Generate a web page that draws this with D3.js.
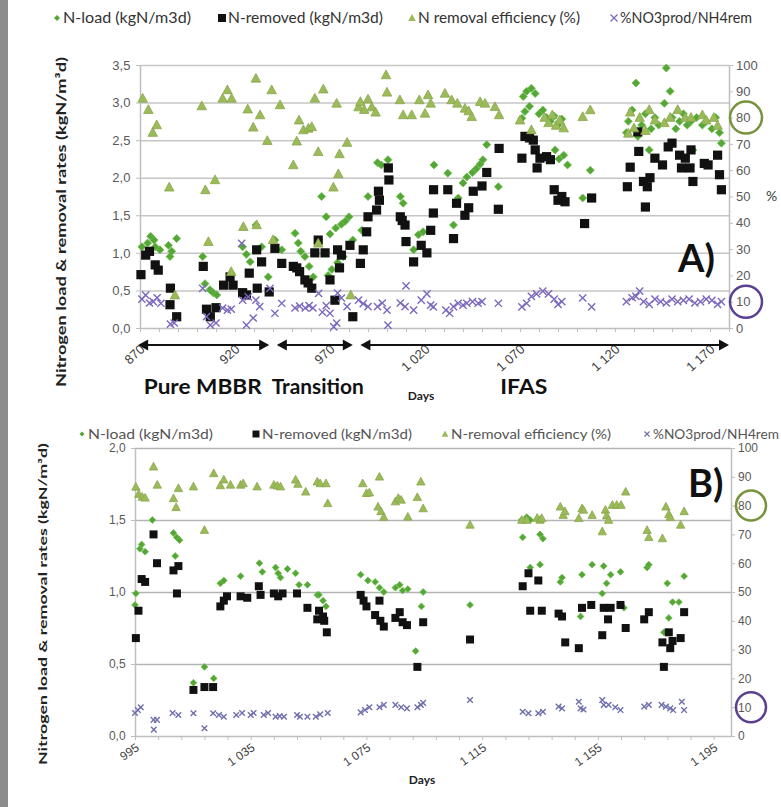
<!DOCTYPE html>
<html>
<head>
<meta charset="utf-8">
<script src="https://cdn.jsdelivr.net/npm/d3@7"></script>
<style>
  body { margin: 0; background: #fff; }
  svg { display: block; font-family: Lato, "Liberation Sans", sans-serif; }
</style>
</head>
<body>
<svg width="781" height="807"></svg>
<script>
var svg = d3.select("svg");

// ---- panel A data: [day, value] ----
var aLoad = [[871,1.08],[874,1.13],[875.6,1.22],[877.4,1.17],[878,1.08],[880.5,1.04],[885,1.10],[885.8,0.95],[886.7,1.02],[889.3,1.19],
  [903,0.95],[904.2,0.59],[906.8,0.51],[908.5,0.47],[910.4,0.44],[924,1.08],[926,0.98],[928,0.88],[931,1.37],[934,1.08],
  [937.5,0.68],[941,1.17],[944.6,1.04],[951.6,1.26],[953.3,1.13],[954.6,1.02],[956.8,0.95],[959,0.82],[961.2,0.68],[963.8,1.17],
  [965.6,1.75],[968,1.48],[969,0.70],[970,1.25],[971,0.78],[973,1.33],[974,0.87],[976,1.38],[977,0.95],[978,1.42],[980,1.48],
  [982,1.17],[986.7,1.30],[990,1.75],[995,2.20],[997,2.17],[1000.5,2.24],[1007,1.75],[1008.5,1.66],[1014,1.04],[1016.5,1.24],
  [1019,1.28],[1024.7,2.17],[1032,2.06],[1035,1.37],[1037.5,1.73],[1040,1.93],[1042,2.01],[1045,2.07],[1047,2.12],[1049,2.18],
  [1050.5,2.24],[1052.5,2.44],[1058.6,1.88],[1071,2.79],[1071.7,3.08],[1072.6,2.88],[1073.5,3.15],[1075,2.95],[1076,3.19],[1078,3.12],
  [1080,2.85],[1082,2.9],[1084,2.8],[1086,2.75],[1088,2.82],[1090,2.7],[1092,2.78],[1088.5,2.37],[1090.5,2.25],[1093,2.3],[1095,2.17],
  [1103,1.73],[1107,2.1],[1126,2.6],[1127,2.75],[1129,2.9],[1131,3.26],[1132,2.55],[1134,2.7],[1136,2.85],[1138,2.37],[1139,2.65],
  [1141,2.8],[1143,2.7],[1146,2.99],[1147,3.46],[1149,3.15],[1150,2.8],[1152,2.65],[1154,2.75],[1156,2.85],[1158,2.7],[1160,2.75],
  [1161,2.37],[1163,2.8],[1166,2.7],[1168,2.75],[1171,2.65],[1173,2.8],[1175,2.6],[1176,2.46]];
var aRemoved = [[870.5,0.71],[873,0.97],[875,1.02],[878,0.84],[879.6,0.77],[885.8,0.31],[886,0.53],[889.3,0.15],[903.3,0.82],[905,0.25],
  [907,0.15],[910,0.27],[914,0.57],[917.4,0.68],[919,0.57],[924,0.47],[926,0.44],[927.5,0.73],[931.4,1.04],[931.7,0.53],[934,0.88],
  [938,0.48],[941,1.06],[944.6,0.86],[950.7,0.82],[952.5,0.80],[954,0.75],[956.8,0.64],[958.5,0.60],[960.4,0.53],[962,1.0],[963.8,1.17],
  [967.4,1.0],[970,0.64],[972.6,0.37],[974,1.04],[975,0.80],[976,0.97],[980.5,1.10],[982,0.15],[986,0.86],[987.5,1.04],[989.3,1.28],
  [990,1.48],[994.5,1.57],[995.5,1.82],[996,1.70],[1000.7,2.13],[1001,1.97],[1007,1.48],[1008,1.43],[1009.5,1.37],[1010,1.15],
  [1014,0.88],[1018,1.10],[1021,1.0],[1023,1.30],[1024.4,1.53],[1024.5,1.84],[1032,1.84],[1035,1.19],[1036.6,1.66],[1041,1.50],
  [1043,1.60],[1045.4,1.82],[1050,1.89],[1052.5,2.07],[1058.6,1.58],[1059,2.39],[1071,2.26],[1072.6,2.55],[1075,2.53],[1077,2.50],
  [1078,2.37],[1079,2.13],[1080.5,2.26],[1084,2.28],[1086,2.24],[1088,1.84],[1090,1.70],[1092,1.75],[1093.7,1.68],[1104,1.39],
  [1107.7,1.73],[1126.5,1.88],[1128,2.14],[1132,2.61],[1132.5,2.35],[1135,1.95],[1136,1.61],[1137,1.88],[1138.4,2.0],[1141,2.26],
  [1145,2.17],[1148,2.41],[1150,2.46],[1154,2.30],[1155,2.13],[1157,2.26],[1159.5,2.13],[1160,2.37],[1161,1.95],[1167,2.19],
  [1169,2.17],[1174,2.30],[1175,2.04],[1176,1.84]];
var aEff = [[871.4,87.3],[874.4,83],[876.7,74.3],[878.8,77.2],[885.4,53.5],[888.4,12.5],[902.5,84.4],[904.4,52.5],[906,32.8],[909.5,56.3],
  [913.5,87.3],[916,90.5],[918,21.4],[918.2,87.3],[924.4,38.5],[926.7,83.2],[929.6,76.3],[931,94.9],[931.4,39.2],[933.2,81],[937,71.2],
  [939.3,90.5],[940,33.5],[943.7,84.8],[950.7,62],[952.5,71],[953.7,79],[956,75.3],[958.6,75.9],[960.4,76.5],[962,87.3],[963.8,67],
  [963.8,32.2],[966.5,90.8],[971.8,53.5],[973.5,85.4],[974.4,58.6],[975,66.2],[979,70.5],[980.9,12.5],[985,84],[986,86],[988,83],
  [990,87],[992,84],[994,82],[999.5,96.2],[1000,89.6],[1006.8,86.7],[1008.5,81],[1013,81],[1017,86.7],[1020,81.6],[1021.6,88.6],
  [1023,85.4],[1030.5,89.2],[1034,86.7],[1037,85.4],[1041,83.5],[1043,82.5],[1044.6,80.3],[1049,86],[1051.6,85.4],[1056.8,84.1],
  [1059,81],[1070,79],[1076,75.3],[1083,80],[1085,78],[1087,81],[1089,77],[1091,79],[1093,76],[1103,80.3],[1107,82.9],[1127,74],
  [1128,82],[1130,76],[1133,80],[1136,75],[1138,83],[1141,79],[1146,78],[1149,80],[1153,83],[1157,80],[1160,80],[1166,81],
  [1168,79],[1172,80],[1174,77]];
var aNo3 = [[871,11],[873,12.5],[875,9.5],[877,10],[879,11.5],[881,9.4],[886,1.5],[888,1.9],[903,15.1],[905,4.3],[907,1.1],[910,1.9],
  [913.5,7.6],[916,6.8],[918,7.2],[923.5,32.2],[924,10.6],[926,1.1],[927,11.8],[929.6,3.8],[931,10.6],[933,8.1],[938.4,15.1],[941,5.6],
  [944.6,9.4],[951.6,7.6],[954,8.3],[957,7.6],[959,8.5],[961,7.6],[964,13.2],[966,6],[968,8.5],[970,5.6],[972,0.4],[973.5,1.9],
  [974,13.3],[976,11.4],[979,8.1],[985,10.6],[987.5,9.3],[990,8.1],[995,8.1],[997.5,9.5],[1000,6.8],[1000.5,1.1],[1007,9.5],
  [1009.5,8.1],[1010,16],[1014,6.8],[1018,10.6],[1021,13],[1023,8.7],[1024.4,8],[1031,6.8],[1033,5.6],[1035,8.1],[1037.5,9.4],
  [1040,8.7],[1042,9.4],[1045,10],[1048,9.4],[1050,10],[1058.6,9.4],[1071,8],[1073.5,9.4],[1076,12],[1078.7,13],[1082,14],[1085,13],
  [1088,11],[1090,9],[1092,10],[1103,11.4],[1107.7,8],[1126,10],[1129,11.5],[1131,12],[1133,14],[1135,10],[1138,9],[1141,11],
  [1144,10],[1147,9.5],[1150,11],[1153,10],[1156,10.5],[1159,11],[1162,9.5],[1165,10],[1168,11],[1171,10.5],[1174,9],[1176,10]];

// ---- panel B data: [day, value] ----
var bLoad = [[995,0.91],[995.3,0.99],[996.7,1.30],[997.3,1.33],[998.5,1.28],[1001,1.50],[1008.3,1.41],[1008.9,1.25],[1009.4,1.38],
  [1010.4,1.36],[1015.2,0.37],[1019,0.48],[1022.2,0.40],[1024.5,1.06],[1025.7,1.08],[1031.5,1.11],[1038,1.20],[1039,1.14],
  [1043.6,1.17],[1044.5,1.13],[1045.3,1.10],[1047.7,1.16],[1050.5,1.13],[1051.7,1.05],[1054.6,1.05],[1058,0.98],[1058.6,0.98],
  [1060,0.94],[1061,0.90],[1073,1.12],[1075.5,1.08],[1078,1.07],[1079.5,1.03],[1081,1.0],[1085,1.03],[1086.5,1.05],[1087.5,1.01],
  [1089.3,1.02],[1092,0.59],[1094,0.90],[1094.6,1.0],[1110.8,0.91],[1128.6,1.50],[1129,1.38],[1130.4,1.52],[1131.6,1.50],
  [1131.6,1.17],[1135,1.40],[1135,1.19],[1136,1.37],[1142,1.07],[1142.6,1.10],[1149,0.83],[1149.5,1.12],[1153,1.19],[1156.5,0.99],
  [1157,1.18],[1158,1.06],[1159.4,1.12],[1162.8,1.14],[1164,0.89],[1172,1.17],[1172.6,1.19],[1177.8,0.72],[1179,1.06],[1179.5,0.82],
  [1180.8,0.93],[1183,0.93],[1184.8,1.11]];
var bRemoved = [[995.3,0.68],[996.2,0.87],[997.3,1.09],[998.5,1.07],[1001.4,1.40],[1002.6,1.20],[1008.3,1.15],[1009.5,0.99],[1010,1.18],
  [1015.2,0.32],[1019,0.34],[1022,0.34],[1024.5,0.90],[1025.7,0.94],[1026.8,0.97],[1031.5,0.97],[1033.8,0.96],[1037.8,1.04],
  [1038.4,0.98],[1043,0.99],[1044.5,0.97],[1046,0.99],[1051,0.99],[1054.6,0.89],[1058,0.81],[1058.6,0.87],[1060,0.83],[1060.4,0.80],
  [1061.3,0.72],[1073,0.98],[1074,0.94],[1075,0.90],[1078,0.84],[1079.5,0.94],[1079.8,0.80],[1081,0.76],[1085,0.82],[1086.5,0.86],
  [1087.5,0.79],[1089,0.77],[1092.6,0.48],[1094.6,0.79],[1110.8,0.67],[1129,1.04],[1131,1.13],[1131.6,0.87],[1134.4,1.08],
  [1135.6,0.87],[1141.4,0.85],[1142.6,0.83],[1143.7,0.65],[1148.4,0.61],[1149.5,0.89],[1152.7,0.91],[1156.5,0.70],[1157,0.89],
  [1158.5,0.81],[1159.4,0.89],[1162.8,0.91],[1164.6,0.75],[1171,0.81],[1172.6,0.86],[1177.3,0.65],[1177.8,0.48],[1179.5,0.72],
  [1180,0.61],[1180.8,0.66],[1183.6,0.68],[1184.8,0.86]];
var bEff = [[995.3,86.5],[996.3,84],[997.5,83],[998.5,82.7],[1001.4,93.5],[1002.7,87.2],[1008.3,82.5],[1009.2,79.4],[1010,86],
  [1015.2,86.6],[1019,71.5],[1022.2,91.2],[1024.5,87],[1025.7,89],[1028,87.2],[1031.5,87.2],[1032.4,87.7],[1037.2,86.6],[1043,87.2],
  [1044.2,86.9],[1045.3,86.6],[1050.5,89],[1051.3,87.5],[1054,84.8],[1058,88.3],[1059,87.7],[1061,87.7],[1061.6,80.8],[1073.7,87.7],
  [1075,84.3],[1076,84.5],[1079.5,90],[1079,79.6],[1080,78],[1081,76],[1085,81.4],[1086,82.6],[1087,82],[1089.3,76.1],[1092.6,82.9],
  [1093.8,88.3],[1094.6,79],[1110.8,73.3],[1128.7,75],[1130.4,75],[1134,75.7],[1135,75],[1135.6,75.6],[1142,79.6],[1143,76.7],
  [1143.6,78],[1148.4,75.6],[1149.5,79],[1150,78.5],[1153,76.7],[1156.5,71],[1157.6,78.5],[1158,76.5],[1158.7,75],[1160,80.2],
  [1161.5,80.2],[1163,80.2],[1164.6,84.8],[1172,71.5],[1172.6,69],[1177.3,68.6],[1178.5,79.6],[1179.5,77],[1180,76],[1183.6,73.3],
  [1184.8,78]];
var bNo3 = [[995,8],[996,9],[997,10],[1001.4,5.6],[1001.5,2.2],[1002.6,5.6],[1008,8],[1010,7.3],[1015.2,7.9],[1019,2.7],[1022,7.9],
  [1024,7.3],[1025.7,6.7],[1030,7.3],[1032,8],[1035,7.3],[1036,8],[1039.5,7.3],[1041,8],[1043.6,6.7],[1045,6.9],[1046.5,6.7],
  [1051,7.3],[1052,6.7],[1054.6,6.7],[1057.5,6.7],[1059,7.5],[1061.6,8],[1073,8.2],[1074.5,9],[1076,10],[1079.5,10],[1081,10.8],
  [1085,10.8],[1087,10],[1089,9.6],[1092.6,10],[1093.8,10.8],[1094.6,11.5],[1110.8,12.5],[1129,8.4],[1131,7.9],[1134.4,7.9],
  [1136,8.4],[1141.4,10.2],[1142.6,9.6],[1148.4,11.9],[1149,9.6],[1150,9.2],[1156.5,12.5],[1157,10.8],[1158.7,10.8],[1161,10],
  [1162.8,9],[1171,10.2],[1172.6,10.8],[1177,10.8],[1178.5,10.2],[1180,9.6],[1181,9],[1184,11.9],[1184.8,9]];

var legendA = ["N-load (kgN/m3d)", "N-removed (kgN/m3d)", "N removal efficiency (%)", "%NO3prod/NH4rem"];
var legendB = ["N-load (kgN/m3d)", "N-removed (kgN/m3d)", "N-removal efficiency (%)", "%NO3prod/NH4rem"];
var aDayLabels = [870, 920, 970, 1020, 1070, 1120, 1170];
var bDayLabels = [995, 1035, 1075, 1115, 1155, 1195];
var phaseNames = ["Pure MBBR", "Transition", "IFAS"];
var phaseStart = [869, 942, 986];
var phaseEnd = [938, 982, 1180];
var phaseLabelDay = [903, 963.5, 1072];
var phaseLabelW = [118, 92, 47];

var cLoad = "#55a636", cRem = "#111", cEff = "#9bbb59", cNo3 = "#7b68bd";
var yTitle = "Nitrogen load & removal rates (kgN/m\u00b3d)";

// grey frame strip on the left
svg.append("rect").attr("x", 0).attr("y", 0).attr("width", 8).attr("height", 807).attr("fill", "#8c8c8c");

function fmtComma(d) { return d3.format(".1f")(d).replace(".", ","); }
function fmtDay(d) { return d >= 1000 ? Math.floor(d / 1000) + " " + String(d % 1000).padStart(3, "0") : String(d); }

// marker shapes
function shape(kind, s) {
  if (kind == "diamond") return "M0," + (-s) + "L" + s + ",0L0," + s + "L" + (-s) + ",0Z";
  if (kind == "square") return "M" + (-s) + "," + (-s) + "h" + (2 * s) + "v" + (2 * s) + "h" + (-2 * s) + "Z";
  if (kind == "triangle") return "M0," + (-s) + "L" + (s * 0.95) + "," + (s * 0.75) + "L" + (-s * 0.95) + "," + (s * 0.75) + "Z";
  return "M" + (-s) + "," + (-s) + "L" + s + "," + s + "M" + (-s) + "," + s + "L" + s + "," + (-s);
}

function drawPanel(o) {
  var x = d3.scaleLinear().domain(o.xDomain).range([o.left, o.right]);
  var y = d3.scaleLinear().domain([0, o.yMax]).range([o.bottom, o.top]);
  var yr = d3.scaleLinear().domain([0, 100]).range([o.bottom, o.top]);
  var g = svg.append("g");

  // gridlines
  g.append("g").attr("transform", "translate(" + o.left + ",0)")
    .call(d3.axisLeft(y).tickValues(o.grid).tickSize(-(o.right - o.left)).tickFormat(""))
    .call(function(a) { a.select(".domain").remove(); })
    .selectAll("line").attr("stroke", o.gridColor).attr("stroke-width", 1.5);

  // left axis
  var la = g.append("g").attr("transform", "translate(" + o.left + ",0)")
    .call(d3.axisLeft(y).tickValues(o.grid.concat([0])).tickSize(4).tickSizeOuter(0).tickFormat(fmtComma));
  la.select(".domain").attr("stroke", "#bfbfbf").attr("stroke-width", 1.5);
  la.selectAll("line").attr("stroke", "#bfbfbf");
  la.selectAll("text").attr("fill", "#595959").style("font-size", o.tickFont + "px").attr("dx", "-0.2em");

  // right axis
  var ra = g.append("g").attr("transform", "translate(" + o.right + ",0)")
    .call(d3.axisRight(yr).tickValues(d3.range(0, 101, 10)).tickSize(4).tickSizeOuter(0));
  ra.select(".domain").attr("stroke", "#bfbfbf").attr("stroke-width", 1.5);
  ra.selectAll("line").attr("stroke", "#bfbfbf");
  ra.selectAll("text").attr("fill", "#595959").style("font-size", o.tickFont + "px");

  // bottom axis
  var ba = g.append("g").attr("transform", "translate(0," + o.bottom + ")")
    .call(d3.axisBottom(x).tickValues(d3.range(o.xDomain[0], o.xDomain[1] + 0.01, o.minor)).tickSize(4).tickSizeOuter(0)
      .tickFormat(function(d) { return o.labels.indexOf(d) >= 0 ? fmtDay(d) : ""; }));
  ba.select(".domain").attr("stroke", "#bfbfbf").attr("stroke-width", 1.5);
  ba.selectAll("line").attr("stroke", "#bfbfbf");
  ba.selectAll("text").attr("fill", "#404040").style("font-size", o.tickFont + "px")
    .attr("x", 0).attr("y", 0).attr("dy", "0.35em").style("text-anchor", "end")
    .attr("transform", "translate(" + o.labelShift[0] + "," + o.labelShift[1] + ") rotate(" + o.labelRot + ")");

  // series
  function series(data, sc, kind, size, fill, stroke, sw) {
    g.append("g").selectAll("path").data(data).join("path")
      .attr("transform", function(d) { return "translate(" + x(d[0]) + "," + sc(d[1]) + ")"; })
      .attr("d", shape(kind, size))
      .attr("fill", kind == "cross" ? "none" : fill)
      .attr("stroke", stroke).attr("stroke-width", sw);
  }
  series(o.load, y, "diamond", o.sz[0], cLoad, "#6cbf4c", 0.8);
  series(o.removed, y, "square", o.sz[1], cRem, "none", 0);
  series(o.eff, yr, "triangle", o.sz[2], cEff, "#8aa64c", 0.8);
  series(o.no3, yr, "cross", o.sz[3], "none", o.no3Color, 1.4);

  // legend
  var kinds = ["diamond", "square", "triangle", "cross"];
  var fills = [cLoad, cRem, cEff, "none"];
  var lg = g.append("g").style("font-size", o.legendFont + "px").attr("fill", o.legendColor);
  o.legend.forEach(function(t, i) {
    lg.append("path").attr("transform", "translate(" + o.legendX[i] + "," + o.legendY + ")")
      .attr("d", shape(kinds[i], o.legendSz[i])).attr("fill", fills[i])
      .attr("stroke", i == 3 ? o.no3Color : "none").attr("stroke-width", 1.2);
    lg.append("text").attr("x", o.legendX[i] + 6).attr("y", o.legendY).attr("dy", "0.35em")
      .attr("textLength", o.legendW[i]).attr("lengthAdjust", "spacingAndGlyphs").text(t);
  });

  // y title
  g.append("text").attr("transform", "translate(" + o.titleX + "," + o.titleY + ") rotate(-90)")
    .attr("text-anchor", "middle").style("font-weight", "bold").style("font-size", o.titleFont + "px")
    .attr("fill", "#222").attr("textLength", o.titleLen).attr("lengthAdjust", "spacingAndGlyphs").text(yTitle);

  // Days label
  g.append("text").attr("x", o.daysPos[0]).attr("y", o.daysPos[1]).attr("text-anchor", "middle")
    .style("font-weight", "bold").style("font-size", "12px").attr("fill", "#222").text("Days");

  // circled reference values on right axis
  [[80, "#77933c"], [10, "#5b3f91"]].forEach(function(c) {
    g.append("circle").attr("cx", o.circleX).attr("cy", yr(c[0])).attr("r", o.circleR)
      .attr("fill", "none").attr("stroke", c[1]).attr("stroke-width", 2.5);
  });

  // panel letter
  g.append("text").attr("x", o.letterPos[0]).attr("y", o.letterPos[1])
    .style("font-weight", "bold").style("font-size", "38px").attr("fill", "#111").text(o.letter);

  return { x: x, y: y, yr: yr, g: g };
}

var A = drawPanel({
  xDomain: [870, 1180], left: 140, right: 729, top: 65, bottom: 328, yMax: 3.5,
  grid: [0.5, 1, 1.5, 2, 2.5, 3, 3.5], gridColor: "#c6c6c6", minor: 10, labels: aDayLabels,
  tickFont: 13, labelRot: -42, labelShift: [2, 19],
  load: aLoad, removed: aRemoved, eff: aEff, no3: aNo3, sz: [4, 4.6, 5, 3.6], no3Color: cNo3,
  legend: legendA, legendX: [57, 222, 412, 614], legendY: 18, legendW: [128, 155, 162, 132], legendSz: [3, 4, 4, 3.5],
  legendFont: 15, legendColor: "#333",
  titleX: 66, titleY: 222, titleFont: 13, titleLen: 330,
  daysPos: [421, 400], circleX: 746, circleR: 16, letter: "A)", letterPos: [678, 272]
});

// "%" for the right axis of A
A.g.append("text").attr("x", 766).attr("y", A.yr(50)).attr("dy", "0.35em")
  .style("font-size", "14px").attr("fill", "#404040").text("%");

// phase arrows under panel A
var arrowY = 345;
phaseNames.forEach(function(name, i) {
  var x0 = A.x(phaseStart[i]), x1 = A.x(phaseEnd[i]);
  A.g.append("line").attr("x1", x0 + 4).attr("x2", x1 - 4).attr("y1", arrowY).attr("y2", arrowY)
    .attr("stroke", "#111").attr("stroke-width", 2);
  A.g.append("path").attr("d", "M" + x0 + "," + arrowY + "l10,-5.5v11Z").attr("fill", "#111");
  A.g.append("path").attr("d", "M" + x1 + "," + arrowY + "l-10,-5.5v11Z").attr("fill", "#111");
  A.g.append("text").attr("x", A.x(phaseLabelDay[i])).attr("y", 394).attr("text-anchor", "middle")
    .style("font-weight", "bold").style("font-size", "20px").attr("fill", "#111")
    .attr("textLength", phaseLabelW[i]).attr("lengthAdjust", "spacingAndGlyphs").text(name);
});

var B = drawPanel({
  xDomain: [995, 1201], left: 135, right: 731, top: 448, bottom: 736, yMax: 2,
  grid: [0.5, 1, 1.5, 2], gridColor: "#b4b4b4", minor: 8, labels: bDayLabels,
  tickFont: 12, labelRot: -35, labelShift: [2, 10],
  load: bLoad, removed: bRemoved, eff: bEff, no3: bNo3, sz: [3.4, 4, 4.4, 2.8], no3Color: "#6f6fae",
  legend: legendB, legendX: [82, 256, 445, 647], legendY: 434, legendW: [125, 150, 160, 126], legendSz: [2.5, 3.5, 3.5, 2.5],
  legendFont: 13, legendColor: "#555",
  titleX: 47, titleY: 604, titleFont: 11, titleLen: 322,
  daysPos: [422, 784], circleX: 751, circleR: 15, letter: "B)", letterPos: [688, 497]
});
</script>
</body>
</html>
